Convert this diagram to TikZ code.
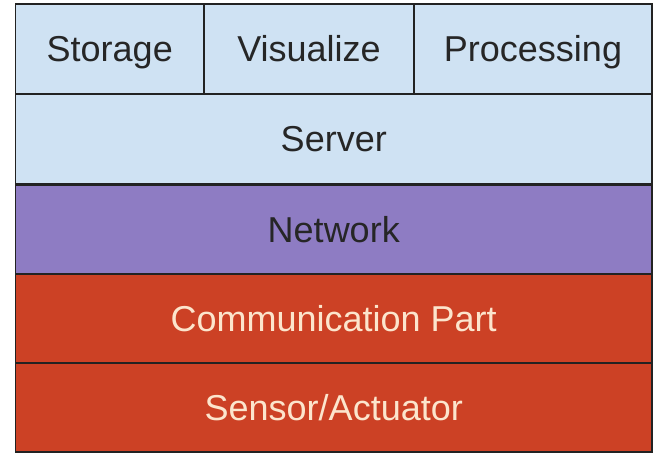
\documentclass[tikz,border=0pt]{standalone}
\usepackage{fontspec}
\setmainfont{Liberation Sans}
\definecolor{lblue}{HTML}{CFE2F3}
\definecolor{lpurple}{HTML}{8E7CC3}
\definecolor{lred}{HTML}{CC4125}
\definecolor{cream}{HTML}{FCE5CD}
\definecolor{edge}{HTML}{222222}
\begin{document}
\begin{tikzpicture}[x=1pt,y=1pt,
  layer/.style={draw=edge, line width=1.3pt, inner sep=0pt, outer sep=0pt,
    font=\fontsize{36}{40}\selectfont, text=black!85, anchor=south west,
    text height=25.8pt, text depth=0pt},
  redlayer/.style={layer, fill=lred, text=cream}]
\useasboundingbox (0,0) rectangle (655,453);
\fill[white] (0,0) rectangle (655,453);
% rows (y flipped: tikz y = 453 - image y)
\node[redlayer, minimum width=636.5pt, minimum height=89pt] (sensor) at (15.5,1) {Sensor/Actuator};
\node[redlayer, minimum width=636.5pt, minimum height=89pt] (comm) at (15.5,90) {Communication Part};
\node[layer, fill=lpurple, minimum width=636.5pt, minimum height=89pt] (net) at (15.5,179) {Network};
\node[layer, fill=lblue, minimum width=636.5pt, minimum height=90pt] (server) at (15.5,269) {Server};
\node[layer, fill=lblue, minimum width=188.5pt, minimum height=90pt] (storage) at (15.5,359) {Storage};
\node[layer, fill=lblue, minimum width=210pt, minimum height=90pt] (vis) at (204,359) {Visualize};
\node[layer, fill=lblue, minimum width=238pt, minimum height=90pt] (proc) at (414,359) {Processing};
\end{tikzpicture}
\end{document}
